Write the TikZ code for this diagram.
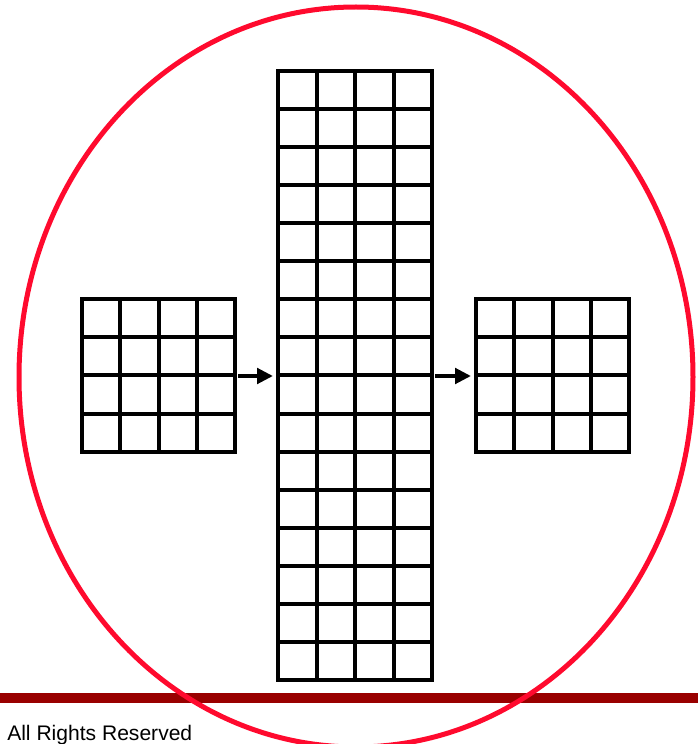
\documentclass[tikz,border=0pt]{standalone}
\usepackage{fontspec}
\setmainfont{Liberation Sans}
\usepackage{tikz}
\usetikzlibrary{positioning,arrows.meta,calc}
\definecolor{ringred}{HTML}{FF0A2E}
\definecolor{barred}{HTML}{990000}

\begin{document}
\begin{tikzpicture}[x=0.75pt,y=0.75pt]
    \tikzstyle{mat}=[rectangle,draw,line width=3pt,inner sep=0pt,outer sep=0pt,fill=white];
    \tikzstyle{gridline}=[line width=3pt];
    \tikzstyle{flow}=[-{Triangle[length=12pt,width=11.5pt]},line width=3pt,shorten <=2.25pt,shorten >=3.75pt];
    \useasboundingbox (0,0) rectangle (698,744);
    % bottom bar and caption
    \fill[barred] (0,41) rectangle (698,51);
    \node[anchor=base west,inner sep=0pt,font=\fontsize{15.8pt}{18pt}\selectfont] (rights) at (7,3) {All Rights Reserved};
    % outer ring
    \draw[ringred,line width=3.75pt] (356,367) ellipse [x radius=337,y radius=370];
    % the three arrays
    \node[mat,minimum width=114.75pt,minimum height=114.75pt] (in)  at (158.5,368.5) {};
    \node[mat,minimum width=115.5pt,minimum height=456.75pt]  (mid) at (355,368.5)   {};
    \node[mat,minimum width=114.75pt,minimum height=114.75pt] (out) at (552.5,368.5) {};
    \foreach \m in {in,out}{
      \foreach \i in {1,2,3}{
        \draw[gridline] ($(\m.south west)!\i/4!(\m.south east)$) -- ($(\m.north west)!\i/4!(\m.north east)$);
        \draw[gridline] ($(\m.south west)!\i/4!(\m.north west)$) -- ($(\m.south east)!\i/4!(\m.north east)$);
      }
    }
    \foreach \i in {1,2,3}
      \draw[gridline] ($(mid.south west)!\i/4!(mid.south east)$) -- ($(mid.north west)!\i/4!(mid.north east)$);
    \foreach \j in {1,...,15}
      \draw[gridline] ($(mid.south west)!\j/16!(mid.north west)$) -- ($(mid.south east)!\j/16!(mid.north east)$);
    % data flow
    \draw[flow] (in.east |- 0,368) -- (mid.west |- 0,368);
    \draw[flow] (mid.east |- 0,368) -- (out.west |- 0,368);
\end{tikzpicture}
\end{document}
